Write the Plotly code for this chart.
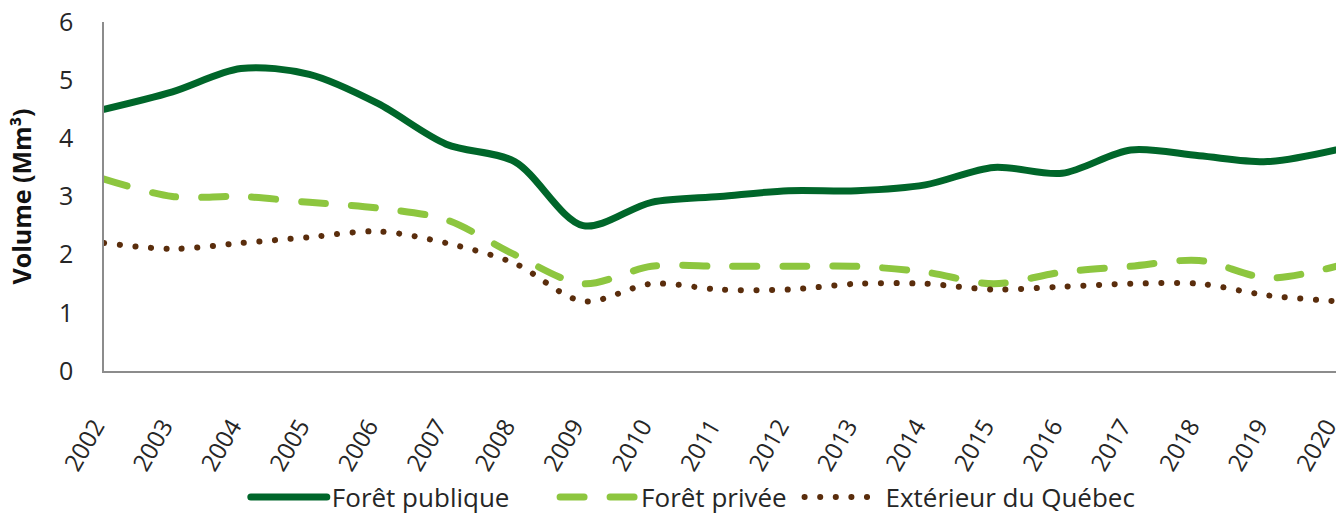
import plotly.graph_objects as go

years = [str(y) for y in range(2002, 2021)]
foret_publique = [4.5, 4.8, 5.2, 5.1, 4.6, 3.9, 3.6, 2.5, 2.9, 3.0, 3.1, 3.1, 3.2, 3.5, 3.4, 3.8, 3.7, 3.6, 3.8]
foret_privee = [3.3, 3.0, 3.0, 2.9, 2.8, 2.6, 2.0, 1.5, 1.8, 1.8, 1.8, 1.8, 1.7, 1.5, 1.7, 1.8, 1.9, 1.6, 1.8]
exterieur = [2.2, 2.1, 2.2, 2.3, 2.4, 2.2, 1.85, 1.2, 1.5, 1.4, 1.4, 1.5, 1.5, 1.4, 1.45, 1.5, 1.5, 1.3, 1.2]

FONT = "Open Sans"
TXT = "#262626"

fig = go.Figure()
fig.add_trace(go.Scatter(x=years, y=foret_publique, name="Forêt publique", mode="lines",
                         legend="legend",
                         line=dict(color="#00662A", width=7, shape="spline", smoothing=0.9)))
fig.add_trace(go.Scatter(x=years, y=foret_privee, name="Forêt privée", mode="lines",
                         legend="legend2",
                         line=dict(color="#8DC63F", width=7, shape="spline", smoothing=0.9,
                                   dash="24px,26px")))
fig.add_trace(go.Scatter(x=years, y=exterieur, name="Extérieur du Québec", mode="lines",
                         legend="legend3",
                         line=dict(color="#5A2D0C", width=6, shape="spline", smoothing=0.9,
                                   dash="0.1px,15.5px")))

def leg(x):
    return dict(orientation="h", x=x, xanchor="left", xref="container",
                y=0.035, yanchor="middle", yref="container",
                font=dict(size=26, color=TXT), itemwidth=76,
                bgcolor="rgba(0,0,0,0)")

fig.update_layout(
    width=1344, height=515,
    margin=dict(l=104, r=8, t=22, b=144),
    paper_bgcolor="white", plot_bgcolor="white",
    font=dict(family=FONT, size=24, color=TXT),
    showlegend=True,
    legend=leg(0.1829), legend2=leg(0.4130), legend3=leg(0.5949),
    xaxis=dict(type="category", range=[0, 18], showgrid=False, showline=True,
               linecolor="#8C8C8C", linewidth=1.5, ticks="", tickangle=-60,
               tickfont=dict(size=24, color=TXT), automargin=False,
               ticklabelstandoff=30, ticklabelshift=-9, ticklabeloverflow="allow"),
    yaxis=dict(range=[0, 6], dtick=1, showgrid=False, showline=True,
               linecolor="#8C8C8C", linewidth=1.5, ticks="", zeroline=False,
               tickfont=dict(size=25, color=TXT), automargin=False,
               ticklabelstandoff=24, ticklabeloverflow="allow",
               title=dict(text="<b>Volume (Mm³)</b>", font=dict(size=25, color="#111111"),
                          standoff=20)),
)

post = """
document.body.style.margin='0';
document.querySelectorAll('path.js-line').forEach(function(p){
  p.style.strokeLinecap='round';
});
"""
fig.write_html("out.html", post_script=post, config={"displayModeBar": False})
